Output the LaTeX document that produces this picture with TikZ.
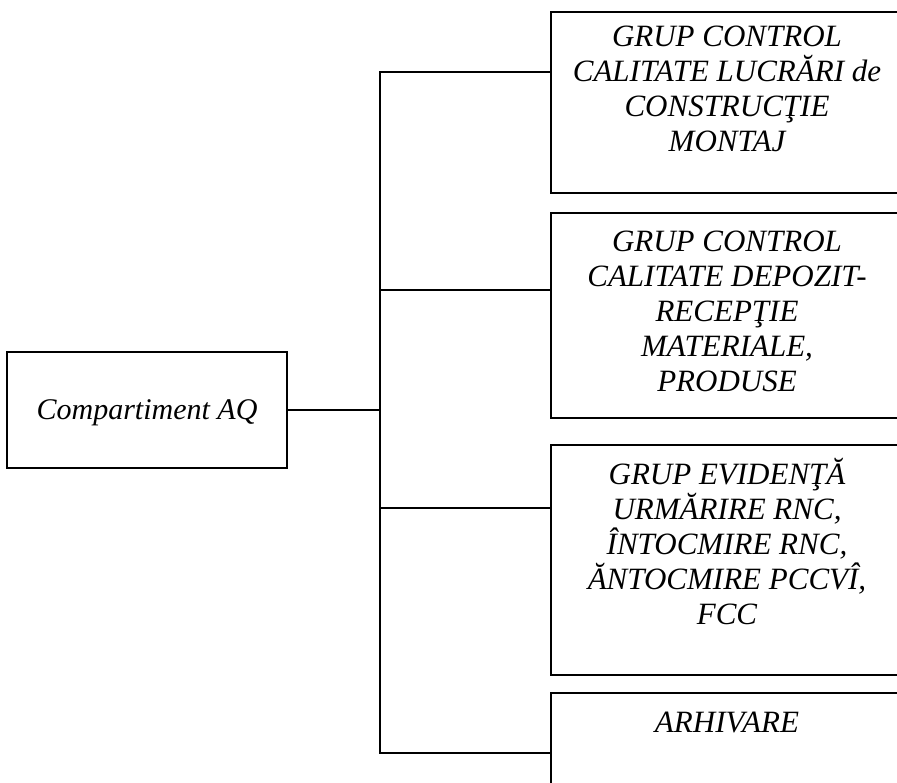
\documentclass[tikz,border=0pt]{standalone}
\usepackage{fontspec}
\setmainfont{Liberation Serif}
\usetikzlibrary{positioning}

\begin{document}
\begin{tikzpicture}[x=1pt,y=-1pt,line width=2pt,
    grp/.style={draw,line width=2pt,minimum width=352pt,inner sep=0pt},
    grptext/.style={inner sep=0pt,align=center,anchor=north,
      font=\itshape\fontsize{31}{35}\selectfont}]
    \useasboundingbox (0,0) rectangle (897,782);
    \clip (0,0) rectangle (897,782);
    % main compartment
    \node[grp,minimum width=280pt,minimum height=116pt,text depth=0pt,
      font=\itshape\fontsize{30}{34}\selectfont] (aq) at (147,410) {Compartiment AQ};
    % groups, cut by the right edge
    \node[grp,minimum height=181pt] (g1) at (727,102.5) {};
    \node[grp,minimum height=205pt] (g2) at (727,315.5) {};
    \node[grp,minimum height=230pt] (g3) at (727,560) {};
    \node[grp,minimum height=107pt] (g4) at (727,746.5) {};
    \node[grptext,below=14pt of g1.north] (t1)
      {GRUP CONTROL\\CALITATE LUCRĂRI de\\CONSTRUCŢIE\\MONTAJ};
    \node[grptext,below=18pt of g2.north] (t2)
      {GRUP CONTROL\\CALITATE DEPOZIT-\\RECEPŢIE\\MATERIALE,\\PRODUSE};
    \node[grptext,below=13pt of g3.north] (t3)
      {GRUP EVIDENŢĂ\\URMĂRIRE RNC,\\ÎNTOCMIRE RNC,\\ĂNTOCMIRE PCCVÎ,\\FCC};
    \node[grptext,below=19pt of g4.north] (t4) {ARHIVARE};
    % trunk and branches
    \coordinate (b1) at (380,72);
    \coordinate (b2) at (380,290);
    \coordinate (b3) at (380,508);
    \coordinate (b4) at (380,753);
    \draw (b1 -| g1.west) -- (b1) -- (b4) -- (b4 -| g4.west);
    \draw (b2) -- (b2 -| g2.west);
    \draw (b3) -- (b3 -| g3.west);
    \draw (aq.east) -- (aq.east -| b1);
  \end{tikzpicture}
\end{document}
